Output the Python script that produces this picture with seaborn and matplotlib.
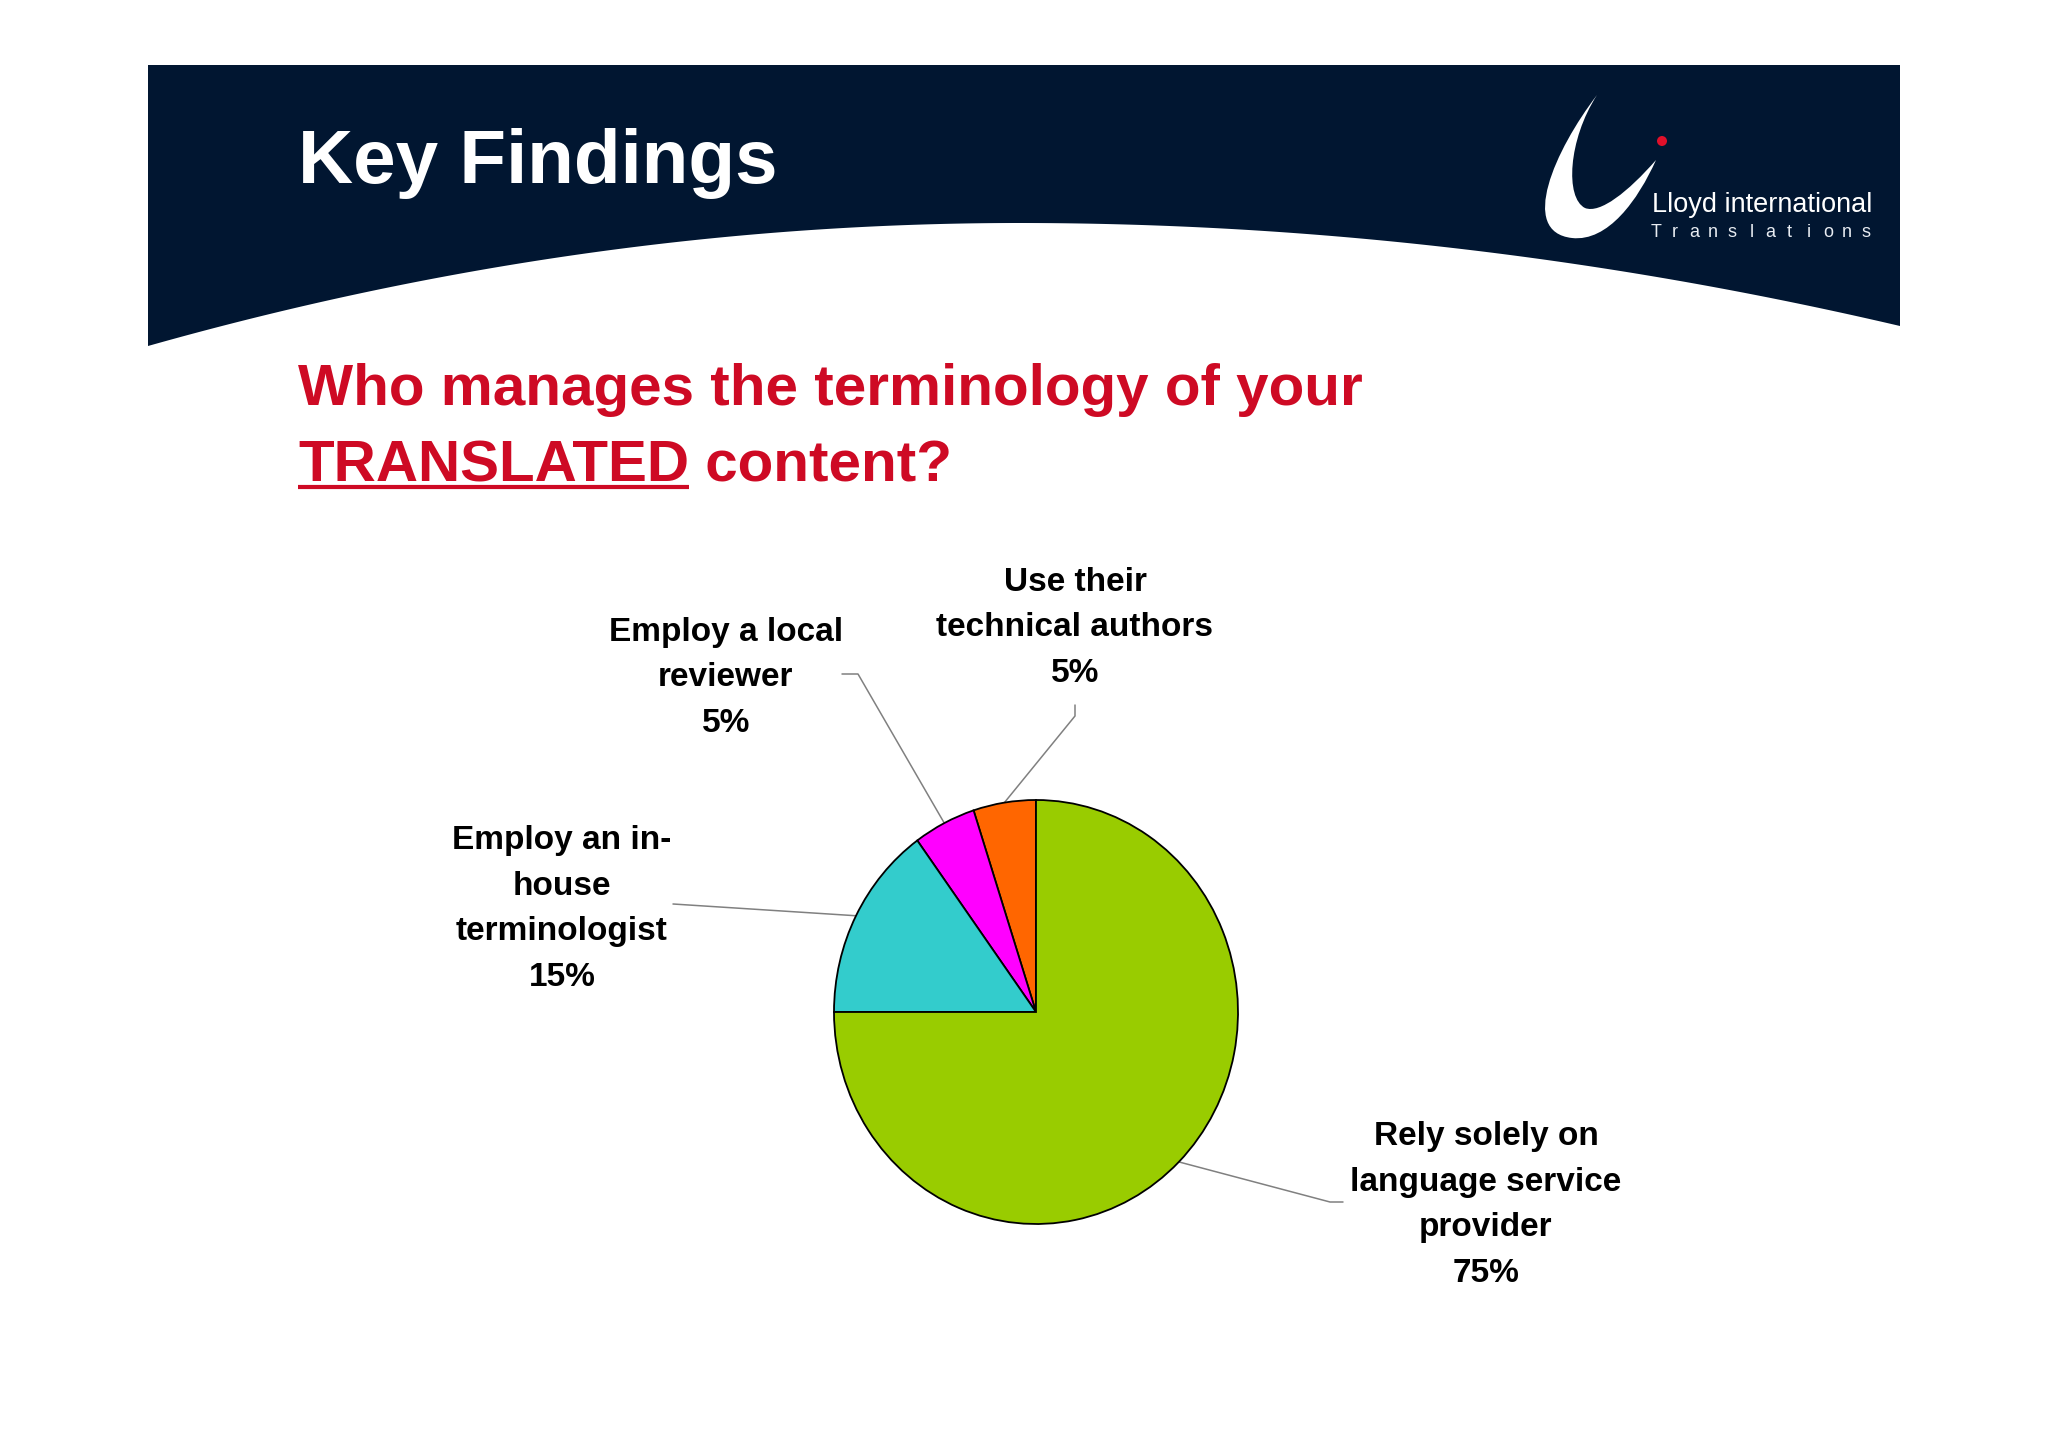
import numpy as np
import matplotlib
matplotlib.use("Agg")
import matplotlib.pyplot as plt
from matplotlib.path import Path
from matplotlib.patches import PathPatch, Polygon, Circle
import seaborn as sns

# ---------------------------
# Data
# ---------------------------
categories = [
    "Use their\ntechnical authors",
    "Employ a local\nreviewer",
    "Employ an in-\nhouse\nterminologist",
    "Rely solely on\nlanguage service\nprovider",
]
shares = [5, 5, 15, 75]
slice_colors = ["#FF6600", "#FF00FF", "#33CCCC", "#99CC00"]

title = "Key Findings"
question_line1 = "Who manages the terminology of your"
question_word = "TRANSLATED"
question_rest = " content?"
logo_name = "Lloyd international"
logo_sub = "Translations"

# ---------------------------
# Layout (figure pixels, y down)
# ---------------------------
W, H = 2048, 1447
NAVY = "#011631"
RED = "#CE0A24"
cx, cy, rx, ry = 1036, 1012, 202, 212          # pie centre / radii
label_xy = [(1075, 628), (726, 678), (562, 909), (1486, 1205)]
# elbow points of each leader line, ordered from text side to pie side
leader_elbows = [
    [(1075, 705), (1075, 716)],
    [(842, 674), (858, 674)],
    [(673, 904)],
    [(1343, 1202), (1330, 1202)],
]

sns.set_theme(style="white")
plt.rcParams["font.family"] = ["Liberation Sans", "DejaVu Sans"]

fig = plt.figure(figsize=(W / 100, H / 100), dpi=100)
fig.patch.set_facecolor("white")
bg = fig.add_axes([0, 0, 1, 1])
bg.set_xlim(0, W)
bg.set_ylim(H, 0)
bg.axis("off")

# ---------------------------
# Header band with curved bottom
# ---------------------------
xs = np.linspace(148, 1900, 400)
px, py = 1019, 223
curve = np.where(
    xs < px,
    py + (346 - py) * ((xs - px) / (148 - px)) ** 2,
    py + (326 - py) * ((xs - px) / (1900 - px)) ** 2,
)
verts = [(148, 65), (1900, 65)] + list(zip(xs[::-1], curve[::-1]))
bg.add_patch(Polygon(verts, closed=True, fc=NAVY, ec="none"))

bg.text(298, 183, title, color="white", fontsize=55, fontweight="bold", va="baseline")

# logo swoosh + dot
swoosh = Path(
    [(1597, 95), (1555, 150), (1518, 232), (1572, 238),
     (1608, 242), (1638, 200), (1656, 160),
     (1628, 192), (1600, 214), (1585, 208),
     (1565, 198), (1568, 140), (1597, 95), (1597, 95)],
    [Path.MOVETO, Path.CURVE4, Path.CURVE4, Path.CURVE4,
     Path.CURVE4, Path.CURVE4, Path.CURVE4,
     Path.CURVE4, Path.CURVE4, Path.CURVE4,
     Path.CURVE4, Path.CURVE4, Path.CURVE4, Path.CLOSEPOLY],
)
bg.add_patch(PathPatch(swoosh, fc="white", ec="none"))
bg.add_patch(Circle((1662, 141), 5, fc="#E0102A", ec="none"))
bg.text(1652, 212, logo_name, color="white", fontsize=19.5, va="baseline")
step = (1866 - 1656) / (len(logo_sub) - 1)
for i, ch in enumerate(logo_sub):
    bg.text(1656 + i * step, 237, ch, color="#E8ECF2", fontsize=13,
            ha="center", va="baseline")

# ---------------------------
# Question
# ---------------------------
qkw = dict(color=RED, fontsize=42, fontweight="bold", va="baseline")
bg.text(298, 405, question_line1, **qkw)
tw = bg.text(298, 481, question_word, **qkw)
fig.canvas.draw()
bb = tw.get_window_extent().transformed(bg.transData.inverted())
x_end = max(bb.x0, bb.x1)
bg.text(x_end, 481, question_rest, **qkw)
bg.plot([298, x_end], [487, 487], color=RED, lw=3, solid_capstyle="butt")

# ---------------------------
# Pie
# ---------------------------
pax = fig.add_axes([(cx - rx) / W, (H - cy - ry) / H, 2 * rx / W, 2 * ry / H])
wedges, _ = pax.pie(
    shares, colors=slice_colors, startangle=90, counterclock=True,
    wedgeprops=dict(edgecolor="black", linewidth=1.3),
)
for w in wedges:
    w.set_clip_on(False)
pax.set_xlim(-1, 1)
pax.set_ylim(-1, 1)
pax.set_aspect("auto")
pax.axis("off")

# labels and leader lines
cum = np.cumsum(shares)
for i, (cat, val) in enumerate(zip(categories, shares)):
    mid = np.deg2rad(90 + (cum[i] - val / 2) * 3.6)
    ex, ey = cx + rx * np.cos(mid), cy - ry * np.sin(mid)
    pts = leader_elbows[i] + [(ex, ey)]
    bg.plot([p[0] for p in pts], [p[1] for p in pts], color="#808080", lw=1.1)
    lx, ly = label_xy[i]
    bg.text(lx, ly, f"{cat}\n{val}%", ha="center", va="center", fontsize=24,
            fontweight="bold", color="black", linespacing=1.6, multialignment="center")

fig.savefig("out.png", dpi=100, facecolor="white")
